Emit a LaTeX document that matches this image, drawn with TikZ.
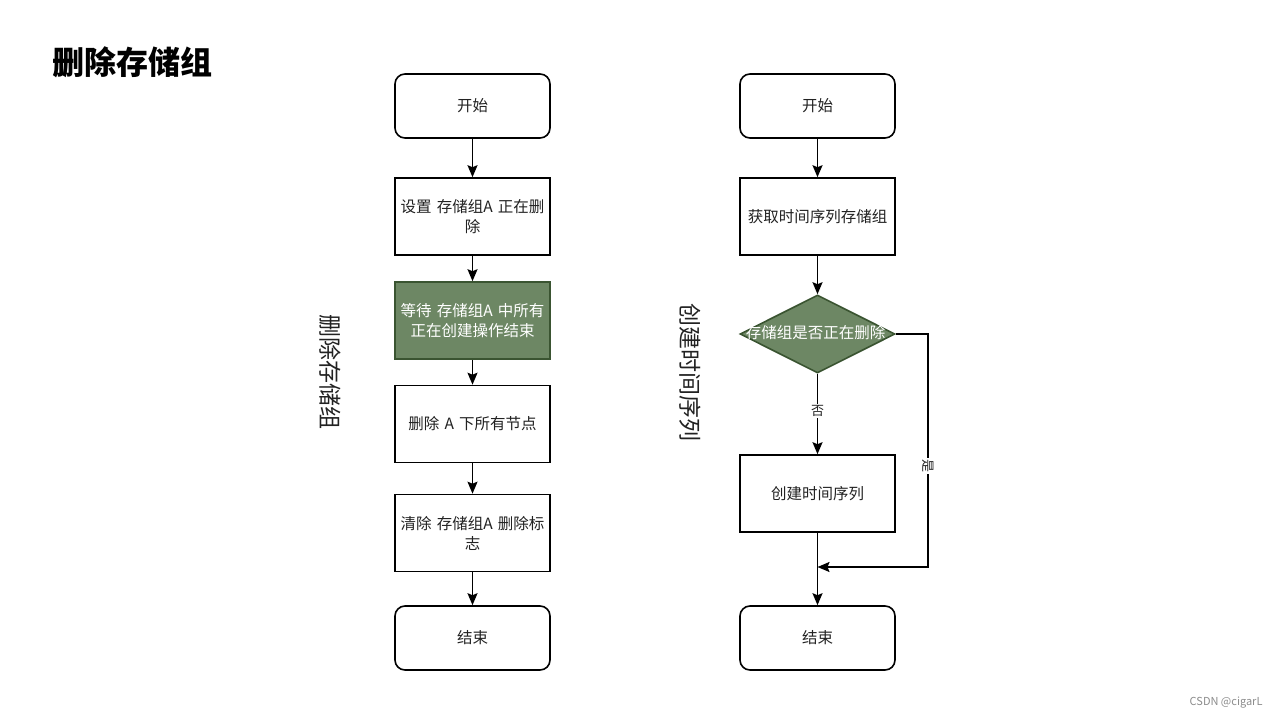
\documentclass[tikz,border=0pt]{standalone}
\usepackage{fontspec}
\setmainfont{Noto Sans CJK SC}
\usetikzlibrary{arrows.meta,shapes.geometric}
\definecolor{gfill}{HTML}{6D8764}
\definecolor{gline}{HTML}{3A5431}
\definecolor{tgray}{HTML}{222222}
\tikzset{
  base/.style={draw=black, line width=1.6pt, minimum width=155pt, text width=150pt, align=center, inner sep=0pt, font=\fontsize{15.5}{20}\selectfont, text=tgray},
  term/.style={base, rounded corners=10pt, minimum height=64pt},
  proc/.style={base, minimum height=77pt},
  gproc/.style={proc, fill=gfill, draw=gline, text=white},
  dia/.style={diamond, draw=gline, fill=gfill, line width=1.6pt, minimum width=155pt, minimum height=78pt, inner sep=0pt},
  diatext/.style={text=white, font=\fontsize{15.5}{20}\selectfont, inner sep=0pt},
  arr/.style={draw=black, line width=1.6pt, -{Stealth[length=12pt,width=10pt,inset=2pt]}},
  lbl/.style={fill=white, inner sep=1.5pt, font=\fontsize{13}{15}\selectfont, text=tgray},
  side/.style={rotate=-90, font=\fontsize{23}{27}\selectfont, text=tgray},
}
\begin{document}
\begin{tikzpicture}[x=1pt,y=-1pt]
\useasboundingbox[fill=white] (0,0) rectangle (1280,720);
\node[anchor=west, font=\fontsize{32}{36}\selectfont\bfseries] (title) at (49,62) {删除存储组};
% left flow
\node[term] (s1) at (472.5,106) {开始};
\node[proc] (s2) at (472.5,216.5) {设置 存储组A 正在删\\除};
\node[gproc] (s3) at (472.5,320.5) {等待 存储组A 中所有\\正在创建操作结束};
\node[proc] (s4) at (472.5,424) {删除 A 下所有节点};
\node[proc] (s5) at (472.5,533) {清除 存储组A 删除标\\志};
\node[term] (s6) at (472.5,638) {结束};
\draw[arr] (s1) -- (s2);
\draw[arr] (s2) -- (s3);
\draw[arr] (s3) -- (s4);
\draw[arr] (s4) -- (s5);
\draw[arr] (s5) -- (s6);
\node[side] (lside) at (330,372) {删除存储组};
% right flow
\node[term] (r1) at (817.5,106) {开始};
\node[proc] (r2) at (817.5,216.5) {获取时间序列存储组};
\node[dia] (r3) at (817.5,334) {};
\node[diatext] (r3t) at (815.5,333) {存储组是否正在删除};
\node[proc] (r4) at (817.5,493.5) {创建时间序列};
\node[term] (r5) at (817.5,638) {结束};
\coordinate (k) at (928,567);
\coordinate (j) at (817.5,567);
\draw[arr] (r1) -- (r2);
\draw[arr] (r2) -- (r3);
\draw[arr] (r3) -- (r4);
\node[lbl] (no) at (817.5,411) {否};
\draw[arr] (r3.east) -| (k) -- (j);
\node[lbl, rotate=-90] (yes) at (928,466) {是};
\draw[arr] (r4) -- (r5);
\node[side] (rside) at (690,372) {创建时间序列};
\node[anchor=east, font=\fontsize{11}{13}\selectfont, text=black!45] (wm) at (1266,703) {CSDN @cigarL};
\end{tikzpicture}
\end{document}
